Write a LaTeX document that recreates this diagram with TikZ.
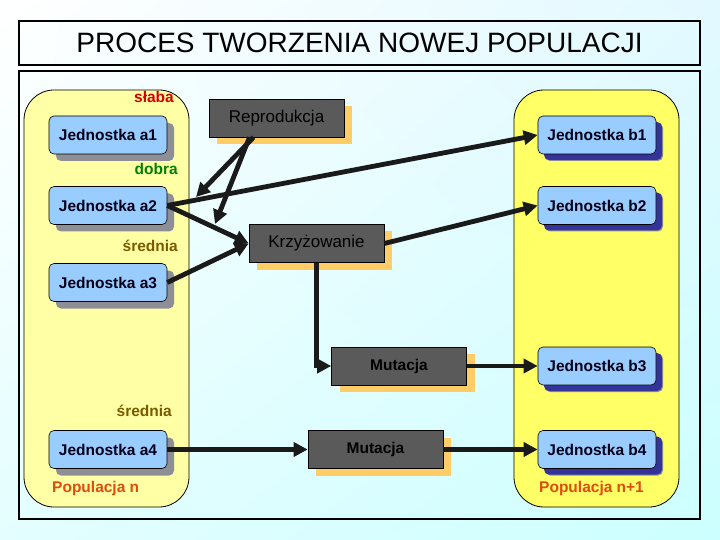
\documentclass[tikz,border=0pt]{standalone}
\usepackage{fontspec}
\setmainfont{Liberation Sans}
\usetikzlibrary{arrows.meta,shadows,shadings}
\definecolor{bgTR}{HTML}{E2F9FF}
\definecolor{bgBL}{HTML}{E4FEFF}
\definecolor{bgBR}{HTML}{CCFFFF}
\definecolor{popL}{HTML}{FFFFA6}
\definecolor{popR}{HTML}{FFFF66}
\definecolor{indiv}{HTML}{99CCFF}
\definecolor{shGray}{HTML}{8E8E96}
\definecolor{shBlue}{HTML}{333399}
\definecolor{procFill}{HTML}{5A5A5A}
\definecolor{procShadow}{HTML}{FFCC66}
\definecolor{arrowCol}{HTML}{1A1A1A}
\definecolor{cRed}{HTML}{D40000}
\definecolor{cGreen}{HTML}{008000}
\definecolor{cBrown}{HTML}{7A5A00}
\definecolor{cOrange}{HTML}{E04C0C}
\tikzset{
  poptxt/.style={font=\fontsize{15.5}{18}\selectfont\bfseries, inner sep=0pt},
  popbox/.style={draw=black, line width=0.8pt, rounded corners=30pt, minimum width=165pt, minimum height=417pt, inner sep=0pt},
  indA/.style={draw=black, line width=0.6pt, fill=indiv, rounded corners=5pt, minimum width=118pt, minimum height=38pt, inner sep=0pt,
     font=\fontsize{15.5}{18}\selectfont\bfseries, text=black!90!blue,
     drop shadow={shadow xshift=7pt, shadow yshift=-7pt, fill=shGray, opacity=1}},
  indB/.style={indA, drop shadow={shadow xshift=6pt, shadow yshift=-6pt, fill=shBlue, opacity=1}},
  proc/.style={draw=black, line width=0.6pt, fill=procFill, minimum width=135pt, minimum height=38pt, inner sep=0pt,
     font=\fontsize{15.5}{18}\selectfont\bfseries, text=black,
     drop shadow={shadow xshift=8pt, shadow yshift=-7pt, fill=procShadow, opacity=1}},
  procR/.style={proc, font=\fontsize{17}{20}\selectfont},
  arr/.style={line width=4.8pt, draw=arrowCol, -{Triangle[length=14pt,width=14pt]}}
}
\begin{document}
\begin{tikzpicture}[x=1pt,y=-1pt]
\useasboundingbox (0,0) rectangle (720,540);
\shade[upper left=white, upper right=bgTR, lower left=bgBL, lower right=bgBR] (0,0) rectangle (720,540);
% title
\node[draw=black, line width=1.2pt, minimum width=681pt, minimum height=44pt, inner sep=0pt,
      font=\fontsize{28}{32}\selectfont] (title) at (359.5,43) {PROCES TWORZENIA NOWEJ POPULACJI};
\node[draw=black, line width=1.2pt, minimum width=681pt, minimum height=448pt, inner sep=0pt] (frame) at (359.5,295) {};
% populations
\node[popbox, fill=popL] (popn) at (106.5,298.5) {};
\node[popbox, fill=popR] (popn1) at (596.5,298.5) {};
% labels
\node[poptxt, text=cRed, anchor=east] (lslaba) at (174,97) {słaba};
\node[poptxt, text=cGreen, anchor=east] (ldobra) at (178,169) {dobra};
\node[poptxt, text=cBrown, anchor=east] (lsred1) at (178,246) {średnia};
\node[poptxt, text=cBrown, anchor=east] (lsred2) at (172,411) {średnia};
\node[poptxt, text=cOrange, anchor=west] (lpopn) at (52,488) {Populacja n};
\node[poptxt, text=cOrange, anchor=west] (lpopn1) at (539,488) {Populacja n+1};
% individuals
\node[indA] (a1) at (108,135) {Jednostka a1};
\node[indA] (a2) at (108,205.5) {Jednostka a2};
\node[indA] (a3) at (108,282.5) {Jednostka a3};
\node[indA] (a4) at (108,449.5) {Jednostka a4};
\node[indB] (b1) at (597,135) {Jednostka b1};
\node[indB] (b2) at (597,205.5) {Jednostka b2};
\node[indB] (b3) at (597,366) {Jednostka b3};
\node[indB] (b4) at (597,449.5) {Jednostka b4};
% processes
\node[procR] (rep) at (276.5,118) {Reprodukcja};
\node[procR] (krz) at (316.5,243.5) {Krzyżowanie};
\node[proc] (mut1) at (399,366) {Mutacja};
\node[proc] (mut2) at (375.5,449.5) {Mutacja};
% free ends
\coordinate (r1) at (196,197);
\coordinate (r2) at (215,224);
% connectors
\draw[arr] ([xshift=-23pt]rep.south) -- (r1);
\draw[arr] ([xshift=-27pt]rep.south) -- (r2);
\draw[arr] (a2.east) -- (b1.west);
\draw[arr] (a2.east) -- (krz.west);
\draw[arr] (a3.east) -- (krz.west);
\draw[arr] (krz.east) -- (b2.west);
\draw[arr] (krz.south) |- (mut1.west);
\draw[arr] (mut1.east) -- (b3.west);
\draw[arr] (a4.east) -- (mut2.west);
\draw[arr] (mut2.east) -- (b4.west);
\end{tikzpicture}
\end{document}
